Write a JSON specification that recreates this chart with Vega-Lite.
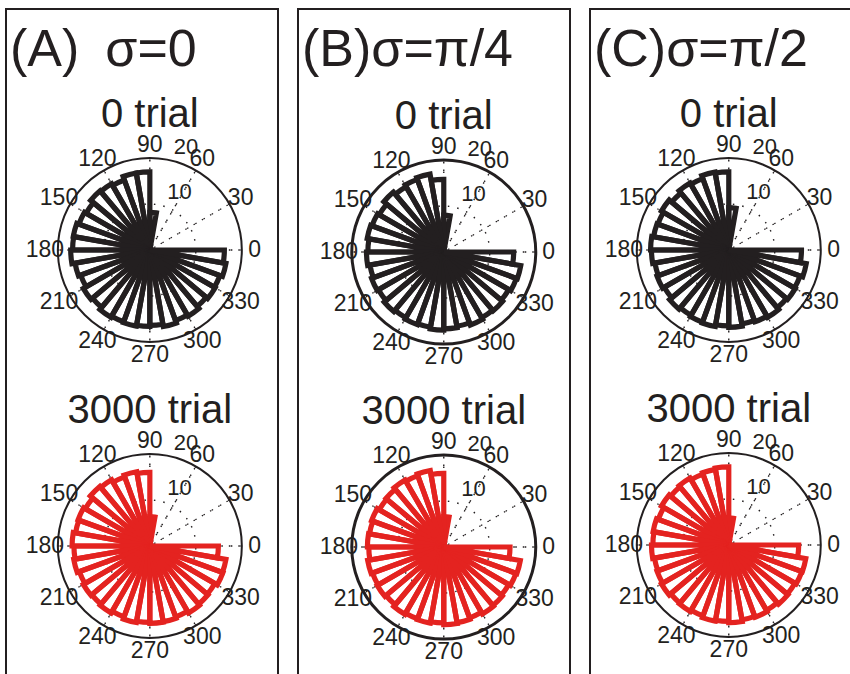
{
"$schema": "https://vega.github.io/schema/vega-lite/v6.json",
"padding": {"left": 5, "top": 8, "right": 0, "bottom": 0},
"background": "white",
"datasets": {
"heads": [{"t": "0 trial"}, {"t": "3000 trial"}],
"rlab": [{"t": "0 trial", "r": 10}, {"t": "0 trial", "r": 20}, {"t": "3000 trial", "r": 10}, {"t": "3000 trial", "r": 20}],
"grid": [
{"t": "0 trial", "a": 0}, {"t": "0 trial", "a": 30}, {"t": "0 trial", "a": 60}, {"t": "0 trial", "a": 90}, {"t": "0 trial", "a": 120}, {"t": "0 trial", "a": 150}, {"t": "0 trial", "a": 180}, {"t": "0 trial", "a": 210}, {"t": "0 trial", "a": 240}, {"t": "0 trial", "a": 270}, {"t": "0 trial", "a": 300}, {"t": "0 trial", "a": 330},
{"t": "3000 trial", "a": 0}, {"t": "3000 trial", "a": 30}, {"t": "3000 trial", "a": 60}, {"t": "3000 trial", "a": 90}, {"t": "3000 trial", "a": 120}, {"t": "3000 trial", "a": 150}, {"t": "3000 trial", "a": 180}, {"t": "3000 trial", "a": 210}, {"t": "3000 trial", "a": 240}, {"t": "3000 trial", "a": 270}, {"t": "3000 trial", "a": 300}, {"t": "3000 trial", "a": 330}
],
"bars": [
{"p":"A","t":"0 trial","a0":80,"a1":90,"n":8.2},{"p":"A","t":"0 trial","a0":90,"a1":100,"n":17.0},{"p":"A","t":"0 trial","a0":100,"a1":110,"n":17.0},{"p":"A","t":"0 trial","a0":110,"a1":120,"n":16.2},{"p":"A","t":"0 trial","a0":120,"a1":130,"n":16.6},{"p":"A","t":"0 trial","a0":130,"a1":140,"n":16.8},{"p":"A","t":"0 trial","a0":140,"a1":150,"n":16.0},{"p":"A","t":"0 trial","a0":150,"a1":160,"n":16.4},{"p":"A","t":"0 trial","a0":160,"a1":170,"n":16.9},{"p":"A","t":"0 trial","a0":170,"a1":180,"n":16.8},{"p":"A","t":"0 trial","a0":180,"a1":190,"n":17.2},{"p":"A","t":"0 trial","a0":190,"a1":200,"n":16.5},{"p":"A","t":"0 trial","a0":200,"a1":210,"n":16.0},{"p":"A","t":"0 trial","a0":210,"a1":220,"n":16.7},{"p":"A","t":"0 trial","a0":220,"a1":230,"n":16.3},{"p":"A","t":"0 trial","a0":230,"a1":240,"n":16.9},{"p":"A","t":"0 trial","a0":240,"a1":250,"n":16.6},{"p":"A","t":"0 trial","a0":250,"a1":260,"n":16.8},{"p":"A","t":"0 trial","a0":260,"a1":270,"n":16.6},{"p":"A","t":"0 trial","a0":270,"a1":280,"n":16.4},{"p":"A","t":"0 trial","a0":280,"a1":290,"n":16.9},{"p":"A","t":"0 trial","a0":290,"a1":300,"n":16.3},{"p":"A","t":"0 trial","a0":300,"a1":310,"n":16.6},{"p":"A","t":"0 trial","a0":310,"a1":320,"n":16.0},{"p":"A","t":"0 trial","a0":320,"a1":330,"n":16.4},{"p":"A","t":"0 trial","a0":330,"a1":340,"n":16.2},{"p":"A","t":"0 trial","a0":340,"a1":350,"n":16.8},{"p":"A","t":"0 trial","a0":350,"a1":360,"n":16.2},
{"p":"B","t":"0 trial","a0":80,"a1":90,"n":8.0},{"p":"B","t":"0 trial","a0":90,"a1":100,"n":15.8},{"p":"B","t":"0 trial","a0":100,"a1":110,"n":17.2},{"p":"B","t":"0 trial","a0":110,"a1":120,"n":16.8},{"p":"B","t":"0 trial","a0":120,"a1":130,"n":16.4},{"p":"B","t":"0 trial","a0":130,"a1":140,"n":17.0},{"p":"B","t":"0 trial","a0":140,"a1":150,"n":16.2},{"p":"B","t":"0 trial","a0":150,"a1":160,"n":16.6},{"p":"B","t":"0 trial","a0":160,"a1":170,"n":16.9},{"p":"B","t":"0 trial","a0":170,"a1":180,"n":16.5},{"p":"B","t":"0 trial","a0":180,"a1":190,"n":16.8},{"p":"B","t":"0 trial","a0":190,"a1":200,"n":16.3},{"p":"B","t":"0 trial","a0":200,"a1":210,"n":16.7},{"p":"B","t":"0 trial","a0":210,"a1":220,"n":16.4},{"p":"B","t":"0 trial","a0":220,"a1":230,"n":16.9},{"p":"B","t":"0 trial","a0":230,"a1":240,"n":16.5},{"p":"B","t":"0 trial","a0":240,"a1":250,"n":16.8},{"p":"B","t":"0 trial","a0":250,"a1":260,"n":16.6},{"p":"B","t":"0 trial","a0":260,"a1":270,"n":17.0},{"p":"B","t":"0 trial","a0":270,"a1":280,"n":16.7},{"p":"B","t":"0 trial","a0":280,"a1":290,"n":16.4},{"p":"B","t":"0 trial","a0":290,"a1":300,"n":16.9},{"p":"B","t":"0 trial","a0":300,"a1":310,"n":16.5},{"p":"B","t":"0 trial","a0":310,"a1":320,"n":16.7},{"p":"B","t":"0 trial","a0":320,"a1":330,"n":16.3},{"p":"B","t":"0 trial","a0":330,"a1":340,"n":16.8},{"p":"B","t":"0 trial","a0":340,"a1":350,"n":17.0},{"p":"B","t":"0 trial","a0":350,"a1":360,"n":15.2},
{"p":"C","t":"0 trial","a0":80,"a1":90,"n":9.2},{"p":"C","t":"0 trial","a0":90,"a1":100,"n":17.0},{"p":"C","t":"0 trial","a0":100,"a1":110,"n":17.2},{"p":"C","t":"0 trial","a0":110,"a1":120,"n":16.5},{"p":"C","t":"0 trial","a0":120,"a1":130,"n":16.8},{"p":"C","t":"0 trial","a0":130,"a1":140,"n":16.2},{"p":"C","t":"0 trial","a0":140,"a1":150,"n":16.9},{"p":"C","t":"0 trial","a0":150,"a1":160,"n":16.4},{"p":"C","t":"0 trial","a0":160,"a1":170,"n":16.6},{"p":"C","t":"0 trial","a0":170,"a1":180,"n":17.0},{"p":"C","t":"0 trial","a0":180,"a1":190,"n":16.8},{"p":"C","t":"0 trial","a0":190,"a1":200,"n":16.3},{"p":"C","t":"0 trial","a0":200,"a1":210,"n":16.6},{"p":"C","t":"0 trial","a0":210,"a1":220,"n":16.2},{"p":"C","t":"0 trial","a0":220,"a1":230,"n":16.8},{"p":"C","t":"0 trial","a0":230,"a1":240,"n":16.4},{"p":"C","t":"0 trial","a0":240,"a1":250,"n":16.7},{"p":"C","t":"0 trial","a0":250,"a1":260,"n":16.9},{"p":"C","t":"0 trial","a0":260,"a1":270,"n":16.5},{"p":"C","t":"0 trial","a0":270,"a1":280,"n":16.8},{"p":"C","t":"0 trial","a0":280,"a1":290,"n":16.3},{"p":"C","t":"0 trial","a0":290,"a1":300,"n":16.6},{"p":"C","t":"0 trial","a0":300,"a1":310,"n":16.9},{"p":"C","t":"0 trial","a0":310,"a1":320,"n":16.4},{"p":"C","t":"0 trial","a0":320,"a1":330,"n":16.7},{"p":"C","t":"0 trial","a0":330,"a1":340,"n":16.5},{"p":"C","t":"0 trial","a0":340,"a1":350,"n":17.1},{"p":"C","t":"0 trial","a0":350,"a1":360,"n":15.8},
{"p":"A","t":"3000 trial","a0":80,"a1":90,"n":6.4},{"p":"A","t":"3000 trial","a0":90,"a1":100,"n":16.0},{"p":"A","t":"3000 trial","a0":100,"a1":110,"n":16.4},{"p":"A","t":"3000 trial","a0":110,"a1":120,"n":16.0},{"p":"A","t":"3000 trial","a0":120,"a1":130,"n":16.6},{"p":"A","t":"3000 trial","a0":130,"a1":140,"n":16.9},{"p":"A","t":"3000 trial","a0":140,"a1":150,"n":16.2},{"p":"A","t":"3000 trial","a0":150,"a1":160,"n":16.6},{"p":"A","t":"3000 trial","a0":160,"a1":170,"n":16.4},{"p":"A","t":"3000 trial","a0":170,"a1":180,"n":16.9},{"p":"A","t":"3000 trial","a0":180,"a1":190,"n":16.5},{"p":"A","t":"3000 trial","a0":190,"a1":200,"n":16.8},{"p":"A","t":"3000 trial","a0":200,"a1":210,"n":16.3},{"p":"A","t":"3000 trial","a0":210,"a1":220,"n":16.7},{"p":"A","t":"3000 trial","a0":220,"a1":230,"n":16.5},{"p":"A","t":"3000 trial","a0":230,"a1":240,"n":16.8},{"p":"A","t":"3000 trial","a0":240,"a1":250,"n":16.4},{"p":"A","t":"3000 trial","a0":250,"a1":260,"n":16.9},{"p":"A","t":"3000 trial","a0":260,"a1":270,"n":16.6},{"p":"A","t":"3000 trial","a0":270,"a1":280,"n":16.8},{"p":"A","t":"3000 trial","a0":280,"a1":290,"n":16.7},{"p":"A","t":"3000 trial","a0":290,"a1":300,"n":16.4},{"p":"A","t":"3000 trial","a0":300,"a1":310,"n":16.8},{"p":"A","t":"3000 trial","a0":310,"a1":320,"n":16.5},{"p":"A","t":"3000 trial","a0":320,"a1":330,"n":16.3},{"p":"A","t":"3000 trial","a0":330,"a1":340,"n":16.9},{"p":"A","t":"3000 trial","a0":340,"a1":350,"n":16.8},{"p":"A","t":"3000 trial","a0":350,"a1":360,"n":14.9},
{"p":"B","t":"3000 trial","a0":80,"a1":90,"n":6.6},{"p":"B","t":"3000 trial","a0":90,"a1":100,"n":16.0},{"p":"B","t":"3000 trial","a0":100,"a1":110,"n":16.9},{"p":"B","t":"3000 trial","a0":110,"a1":120,"n":16.5},{"p":"B","t":"3000 trial","a0":120,"a1":130,"n":16.8},{"p":"B","t":"3000 trial","a0":130,"a1":140,"n":16.4},{"p":"B","t":"3000 trial","a0":140,"a1":150,"n":16.2},{"p":"B","t":"3000 trial","a0":150,"a1":160,"n":16.7},{"p":"B","t":"3000 trial","a0":160,"a1":170,"n":16.4},{"p":"B","t":"3000 trial","a0":170,"a1":180,"n":16.6},{"p":"B","t":"3000 trial","a0":180,"a1":190,"n":16.3},{"p":"B","t":"3000 trial","a0":190,"a1":200,"n":16.8},{"p":"B","t":"3000 trial","a0":200,"a1":210,"n":16.5},{"p":"B","t":"3000 trial","a0":210,"a1":220,"n":16.7},{"p":"B","t":"3000 trial","a0":220,"a1":230,"n":16.4},{"p":"B","t":"3000 trial","a0":230,"a1":240,"n":16.9},{"p":"B","t":"3000 trial","a0":240,"a1":250,"n":16.6},{"p":"B","t":"3000 trial","a0":250,"a1":260,"n":16.8},{"p":"B","t":"3000 trial","a0":260,"a1":270,"n":16.5},{"p":"B","t":"3000 trial","a0":270,"a1":280,"n":16.9},{"p":"B","t":"3000 trial","a0":280,"a1":290,"n":16.7},{"p":"B","t":"3000 trial","a0":290,"a1":300,"n":16.4},{"p":"B","t":"3000 trial","a0":300,"a1":310,"n":16.8},{"p":"B","t":"3000 trial","a0":310,"a1":320,"n":16.6},{"p":"B","t":"3000 trial","a0":320,"a1":330,"n":16.3},{"p":"B","t":"3000 trial","a0":330,"a1":340,"n":16.7},{"p":"B","t":"3000 trial","a0":340,"a1":350,"n":16.9},{"p":"B","t":"3000 trial","a0":350,"a1":360,"n":14.4},
{"p":"C","t":"3000 trial","a0":80,"a1":90,"n":5.9},{"p":"C","t":"3000 trial","a0":90,"a1":100,"n":17.0},{"p":"C","t":"3000 trial","a0":100,"a1":110,"n":16.7},{"p":"C","t":"3000 trial","a0":110,"a1":120,"n":16.4},{"p":"C","t":"3000 trial","a0":120,"a1":130,"n":16.8},{"p":"C","t":"3000 trial","a0":130,"a1":140,"n":16.5},{"p":"C","t":"3000 trial","a0":140,"a1":150,"n":16.9},{"p":"C","t":"3000 trial","a0":150,"a1":160,"n":16.3},{"p":"C","t":"3000 trial","a0":160,"a1":170,"n":16.7},{"p":"C","t":"3000 trial","a0":170,"a1":180,"n":16.5},{"p":"C","t":"3000 trial","a0":180,"a1":190,"n":16.8},{"p":"C","t":"3000 trial","a0":190,"a1":200,"n":16.4},{"p":"C","t":"3000 trial","a0":200,"a1":210,"n":16.6},{"p":"C","t":"3000 trial","a0":210,"a1":220,"n":16.9},{"p":"C","t":"3000 trial","a0":220,"a1":230,"n":16.5},{"p":"C","t":"3000 trial","a0":230,"a1":240,"n":16.7},{"p":"C","t":"3000 trial","a0":240,"a1":250,"n":16.4},{"p":"C","t":"3000 trial","a0":250,"a1":260,"n":16.8},{"p":"C","t":"3000 trial","a0":260,"a1":270,"n":16.6},{"p":"C","t":"3000 trial","a0":270,"a1":280,"n":16.9},{"p":"C","t":"3000 trial","a0":280,"a1":290,"n":16.5},{"p":"C","t":"3000 trial","a0":290,"a1":300,"n":16.7},{"p":"C","t":"3000 trial","a0":300,"a1":310,"n":16.4},{"p":"C","t":"3000 trial","a0":310,"a1":320,"n":16.8},{"p":"C","t":"3000 trial","a0":320,"a1":330,"n":16.6},{"p":"C","t":"3000 trial","a0":330,"a1":340,"n":16.9},{"p":"C","t":"3000 trial","a0":340,"a1":350,"n":17.0},{"p":"C","t":"3000 trial","a0":350,"a1":360,"n":15.2}
]
},
"spacing": 18,
"hconcat": [
{
"width": 272, "height": 700,
"title": {"text": "(A)\u2002σ=0"},
"encoding": {
"x": {"datum": 0, "type": "quantitative", "scale": {"domain": [-1, 0.891]}, "axis": null},
"y": {"field": "t", "type": "nominal", "scale": {"type": "point", "padding": 0, "domain": ["0 trial", "3000 trial"], "range": [241, 537]}, "axis": null}
},
"layer": [
{"data": {"name": "grid"}, "mark": {"type": "arc", "filled": false, "stroke": "#231f20", "strokeWidth": 1.4, "strokeDash": [1.5, 8]},
 "encoding": {"theta": {"field": "a", "type": "quantitative", "stack": null, "scale": {"domain": [0, 360], "range": [1.5708, -4.7124]}}, "theta2": {"field": "a"}, "radius": {"datum": 20, "type": "quantitative", "scale": {"type": "linear", "domain": [0, 20], "range": [0, 92]}}}},
{"data": {"name": "heads"}, "mark": {"type": "arc", "filled": false, "stroke": "#231f20", "strokeWidth": 1.4, "strokeDash": [1.5, 8]},
 "encoding": {"theta": {"datum": 0, "type": "quantitative", "stack": null}, "theta2": {"datum": 360}, "radius": {"datum": 10, "type": "quantitative"}}},
{"data": {"name": "heads"}, "mark": {"type": "arc", "filled": false, "stroke": "#231f20", "strokeWidth": 2},
 "encoding": {"theta": {"datum": 0, "type": "quantitative", "stack": null}, "theta2": {"datum": 360}, "radius": {"datum": 20, "type": "quantitative"}}},
{"data": {"name": "bars"}, "transform": [{"filter": "datum.p === 'A'"}], "mark": {"type": "arc", "filled": false, "strokeWidth": 5.2, "strokeJoin": "miter"},
 "encoding": {"theta": {"field": "a0", "type": "quantitative", "stack": null}, "theta2": {"field": "a1"}, "radius": {"field": "n", "type": "quantitative"},
  "color": {"field": "t", "type": "nominal", "scale": {"domain": ["0 trial", "3000 trial"], "range": ["#231f20", "#e42320"]}, "legend": null}}},
{"data": {"name": "grid"}, "mark": {"type": "text", "fontSize": 23, "font": "Liberation Sans", "color": "#231f20", "align": "center", "baseline": "middle"},
 "encoding": {"theta": {"field": "a", "type": "quantitative", "stack": null}, "radius": {"datum": 22.8, "type": "quantitative"}, "text": {"field": "a"}}},
{"data": {"name": "rlab"}, "mark": {"type": "text", "fontSize": 22, "font": "Liberation Sans", "color": "#231f20", "align": "left", "baseline": "bottom", "dx": 11},
 "encoding": {"theta": {"datum": 82, "type": "quantitative", "stack": null}, "radius": {"field": "r", "type": "quantitative"}, "text": {"field": "r"}}},
{"data": {"name": "heads"}, "mark": {"type": "text", "fontSize": 40, "font": "Liberation Sans", "color": "#231f20", "align": "center", "baseline": "middle"},
 "encoding": {"theta": {"datum": 90, "type": "quantitative", "stack": null}, "radius": {"datum": 29.3, "type": "quantitative"}, "text": {"field": "t"}}}
]
},
{
"width": 272, "height": 700,
"title": {"text": "(B)σ=π/4"},
"encoding": {
"x": {"datum": 0, "type": "quantitative", "scale": {"domain": [-1, 0.866]}, "axis": null},
"y": {"field": "t", "type": "nominal", "scale": {"type": "point", "padding": 0, "domain": ["0 trial", "3000 trial"], "range": [243, 538]}, "axis": null}
},
"layer": [
{"data": {"name": "grid"}, "mark": {"type": "arc", "filled": false, "stroke": "#231f20", "strokeWidth": 1.4, "strokeDash": [1.5, 8]},
 "encoding": {"theta": {"field": "a", "type": "quantitative", "stack": null, "scale": {"domain": [0, 360], "range": [1.5708, -4.7124]}}, "theta2": {"field": "a"}, "radius": {"datum": 20, "type": "quantitative", "scale": {"type": "linear", "domain": [0, 20], "range": [0, 92]}}}},
{"data": {"name": "heads"}, "mark": {"type": "arc", "filled": false, "stroke": "#231f20", "strokeWidth": 1.4, "strokeDash": [1.5, 8]},
 "encoding": {"theta": {"datum": 0, "type": "quantitative", "stack": null}, "theta2": {"datum": 360}, "radius": {"datum": 10, "type": "quantitative"}}},
{"data": {"name": "heads"}, "mark": {"type": "arc", "filled": false, "stroke": "#231f20", "strokeWidth": 3},
 "encoding": {"theta": {"datum": 0, "type": "quantitative", "stack": null}, "theta2": {"datum": 360}, "radius": {"datum": 20, "type": "quantitative"}}},
{"data": {"name": "bars"}, "transform": [{"filter": "datum.p === 'B'"}], "mark": {"type": "arc", "filled": false, "strokeWidth": 5.2, "strokeJoin": "miter"},
 "encoding": {"theta": {"field": "a0", "type": "quantitative", "stack": null}, "theta2": {"field": "a1"}, "radius": {"field": "n", "type": "quantitative"},
  "color": {"field": "t", "type": "nominal", "scale": {"domain": ["0 trial", "3000 trial"], "range": ["#231f20", "#e42320"]}, "legend": null}}},
{"data": {"name": "grid"}, "mark": {"type": "text", "fontSize": 23, "font": "Liberation Sans", "color": "#231f20", "align": "center", "baseline": "middle"},
 "encoding": {"theta": {"field": "a", "type": "quantitative", "stack": null}, "radius": {"datum": 22.8, "type": "quantitative"}, "text": {"field": "a"}}},
{"data": {"name": "rlab"}, "mark": {"type": "text", "fontSize": 22, "font": "Liberation Sans", "color": "#231f20", "align": "left", "baseline": "bottom", "dx": 11},
 "encoding": {"theta": {"datum": 82, "type": "quantitative", "stack": null}, "radius": {"field": "r", "type": "quantitative"}, "text": {"field": "r"}}},
{"data": {"name": "heads"}, "mark": {"type": "text", "fontSize": 40, "font": "Liberation Sans", "color": "#231f20", "align": "center", "baseline": "middle"},
 "encoding": {"theta": {"datum": 90, "type": "quantitative", "stack": null}, "radius": {"datum": 29.3, "type": "quantitative"}, "text": {"field": "t"}}}
]
},
{
"width": 272, "height": 700,
"title": {"text": "(C)σ=π/2"},
"encoding": {
"x": {"datum": 0, "type": "quantitative", "scale": {"domain": [-1, 0.96]}, "axis": null},
"y": {"field": "t", "type": "nominal", "scale": {"type": "point", "padding": 0, "domain": ["0 trial", "3000 trial"], "range": [241, 536]}, "axis": null}
},
"layer": [
{"data": {"name": "grid"}, "mark": {"type": "arc", "filled": false, "stroke": "#231f20", "strokeWidth": 1.4, "strokeDash": [1.5, 8]},
 "encoding": {"theta": {"field": "a", "type": "quantitative", "stack": null, "scale": {"domain": [0, 360], "range": [1.5708, -4.7124]}}, "theta2": {"field": "a"}, "radius": {"datum": 20, "type": "quantitative", "scale": {"type": "linear", "domain": [0, 20], "range": [0, 92]}}}},
{"data": {"name": "heads"}, "mark": {"type": "arc", "filled": false, "stroke": "#231f20", "strokeWidth": 1.4, "strokeDash": [1.5, 8]},
 "encoding": {"theta": {"datum": 0, "type": "quantitative", "stack": null}, "theta2": {"datum": 360}, "radius": {"datum": 10, "type": "quantitative"}}},
{"data": {"name": "heads"}, "mark": {"type": "arc", "filled": false, "stroke": "#231f20", "strokeWidth": 2},
 "encoding": {"theta": {"datum": 0, "type": "quantitative", "stack": null}, "theta2": {"datum": 360}, "radius": {"datum": 20, "type": "quantitative"}}},
{"data": {"name": "bars"}, "transform": [{"filter": "datum.p === 'C'"}], "mark": {"type": "arc", "filled": false, "strokeWidth": 5.2, "strokeJoin": "miter"},
 "encoding": {"theta": {"field": "a0", "type": "quantitative", "stack": null}, "theta2": {"field": "a1"}, "radius": {"field": "n", "type": "quantitative"},
  "color": {"field": "t", "type": "nominal", "scale": {"domain": ["0 trial", "3000 trial"], "range": ["#231f20", "#e42320"]}, "legend": null}}},
{"data": {"name": "grid"}, "mark": {"type": "text", "fontSize": 23, "font": "Liberation Sans", "color": "#231f20", "align": "center", "baseline": "middle"},
 "encoding": {"theta": {"field": "a", "type": "quantitative", "stack": null}, "radius": {"datum": 22.8, "type": "quantitative"}, "text": {"field": "a"}}},
{"data": {"name": "rlab"}, "mark": {"type": "text", "fontSize": 22, "font": "Liberation Sans", "color": "#231f20", "align": "left", "baseline": "bottom", "dx": 11},
 "encoding": {"theta": {"datum": 82, "type": "quantitative", "stack": null}, "radius": {"field": "r", "type": "quantitative"}, "text": {"field": "r"}}},
{"data": {"name": "heads"}, "mark": {"type": "text", "fontSize": 40, "font": "Liberation Sans", "color": "#231f20", "align": "center", "baseline": "middle"},
 "encoding": {"theta": {"datum": 90, "type": "quantitative", "stack": null}, "radius": {"datum": 29.3, "type": "quantitative"}, "text": {"field": "t"}}}
]
}
],
"config": {
"view": {"stroke": "#231f20", "strokeWidth": 2},
"font": "Liberation Sans",
"title": {"anchor": "start", "fontSize": 52, "fontWeight": "normal", "font": "Liberation Sans", "color": "#231f20", "offset": -68, "dx": 4, "baseline": "alphabetic"}
}
}
